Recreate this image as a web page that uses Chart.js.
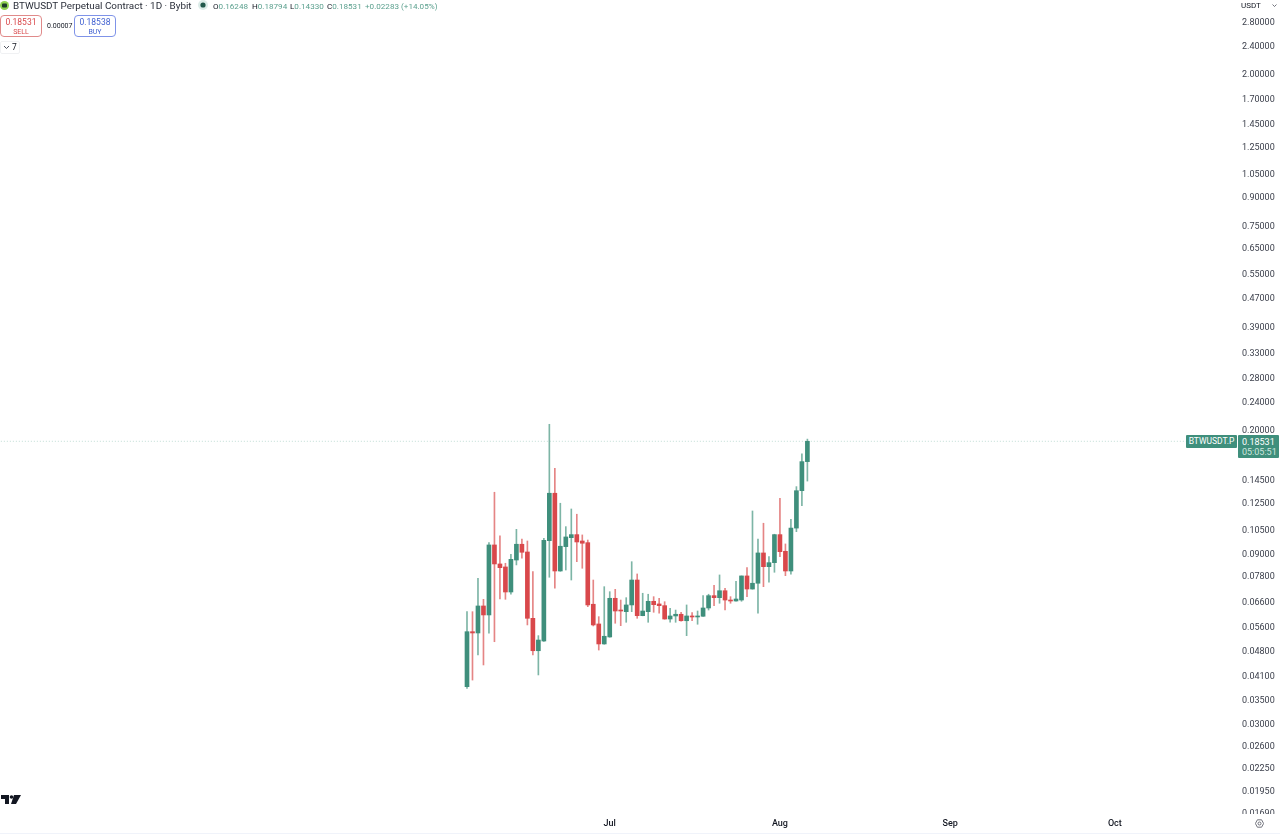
<!DOCTYPE html>
<html>
<head>
<meta charset="utf-8">
<title>BTWUSDT</title>
<script src="https://cdn.jsdelivr.net/npm/chart.js@4"></script>
<style>
  html, body { margin: 0; padding: 0; background: #fff; overflow: hidden; }
  body { width: 1280px; height: 837px; position: relative; font-family: Roboto, sans-serif; color: #131722; }
  canvas { position: absolute; left: 0; top: 0; }
  .t { position: absolute; white-space: nowrap; line-height: 1; }
  .ohlc { position: absolute; top: 1.5px; font-size: 8.1px; line-height: 1; white-space: nowrap; color: #5ba08e; }
  .ohlc span { color: #131722; }
  .btn { position: absolute; top: 15px; width: 40px; height: 20px; border: 1px solid; border-radius: 4px; text-align: center; background: #fff; }
  .btn div { line-height: 1; }
</style>
</head>
<body>
<canvas id="chart" width="1280" height="837"></canvas>

<svg class="t" style="left:0;top:1px" width="10" height="10"><circle cx="4.5" cy="4.5" r="4.5" fill="#8fd14f"/><rect x="2" y="2.5" width="5" height="4" rx="1" fill="#1d3b2a"/></svg>
<div class="t" style="left:13px;top:0.5px;font-size:9.9px;color:#2a2e39">BTWUSDT Perpetual Contract · 1D · Bybit</div>
<svg class="t" style="left:198px;top:0" width="10" height="10"><circle cx="5" cy="5" r="5" fill="#dcece8"/><circle cx="5" cy="5" r="2.6" fill="#22594c"/></svg>
<div class="ohlc" style="left:213px"><span>O</span>0.16248</div>
<div class="ohlc" style="left:252px"><span>H</span>0.18794</div>
<div class="ohlc" style="left:290px"><span>L</span>0.14330</div>
<div class="ohlc" style="left:327px"><span>C</span>0.18531</div>
<div class="ohlc" style="left:365px">+0.02283 (+14.05%)</div>

<div class="btn" style="left:0;border-color:#e08a8a;color:#d9484b">
  <div style="font-size:8.5px;margin-top:2px">0.18531</div>
  <div style="font-size:7px;margin-top:2px">SELL</div>
</div>
<div class="t" style="left:47px;top:22.5px;font-size:7px">0.00007</div>
<div class="btn" style="left:74px;border-color:#7f93e8;color:#3f5fd0">
  <div style="font-size:8.5px;margin-top:2px">0.18538</div>
  <div style="font-size:7px;margin-top:2px">BUY</div>
</div>
<div class="t" style="left:0;top:41px;width:18px;height:11px;border:1px solid #f0f1f3;border-radius:2px"></div>
<svg class="t" style="left:3px;top:45px" width="7" height="5"><path d="M1 1 L3.5 3.5 L6 1" fill="none" stroke="#50535e" stroke-width="1"/></svg>
<div class="t" style="left:12px;top:43px;font-size:8.5px">7</div>

<div class="t" style="left:1241px;top:1.5px;font-size:8px">USDT</div>
<svg class="t" style="left:1272px;top:4px" width="5" height="4"><path d="M0.5 0.5 L2.5 2.5 L4.5 0.5" fill="none" stroke="#50535e" stroke-width="0.8"/></svg>

<div class="t" style="left:1186px;top:435px;width:51px;height:13px;background:#3f8f7c;color:#fff;font-size:8.5px;line-height:13px;text-align:center;border-radius:1px">BTWUSDT.P</div>
<div class="t" style="left:1238px;top:435px;width:41px;height:23px;background:#3f8f7c;border-radius:1px"></div>
<div class="t" style="left:1242px;top:438px;font-size:9px;color:#fff">0.18531</div>
<div class="t" style="left:1242px;top:448px;font-size:9px;color:#cfe6df">05:05:51</div>

<svg class="t" style="left:1px;top:795px" width="20" height="10" viewBox="0 0 20 10"><path d="M0 0 H8 V9 H4 V4 H0 Z M13 0 H20 L15 9 H10 Z" fill="#131722"/><circle cx="10.5" cy="2" r="1.8" fill="#131722"/></svg>
<svg class="t" style="left:1255px;top:819px" width="9" height="9" viewBox="0 0 9 9"><path d="M2.4 0.8 H6.6 L8.6 4.5 L6.6 8.2 H2.4 L0.4 4.5 Z" fill="none" stroke="#50535e" stroke-width="0.8"/><circle cx="4.5" cy="4.5" r="1.5" fill="none" stroke="#50535e" stroke-width="0.8"/></svg>

<div class="t" style="left:0;top:833px;width:1280px;height:1px;background:#f0f3fa"></div>

<script>
// daily candles, 5 Jun to 6 Aug
const days = [0,1,2,3,4,5,6,7,8,9,10,11,12,13,14,15,16,17,18,19,20,21,22,23,24,25,26,27,28,29,30,31,32,33,34,35,36,37,38,39,40,41,42,43,44,45,46,47,48,49,50,51,52,53,54,55,56,57,58,59,60,61,62];
const opens = [0.03796,0.05416,0.05371,0.06395,0.06034,0.09485,0.08389,0.08228,0.06999,0.08605,0.09528,0.09064,0.05905,0.04789,0.05099,0.09749,0.13247,0.08016,0.09382,0.09942,0.10139,0.09731,0.09626,0.06466,0.05693,0.05003,0.05234,0.0672,0.06217,0.06163,0.06437,0.07562,0.06007,0.06163,0.06591,0.06479,0.06408,0.05878,0.05995,0.06061,0.05813,0.05983,0.05956,0.05983,0.06312,0.06835,0.06747,0.07057,0.06645,0.06603,0.06645,0.07764,0.07135,0.07406,0.09007,0.08244,0.08459,0.10139,0.09104,0.08016,0.10577,0.13467,0.16248];
const highs = [0.06163,0.06163,0.07648,0.06676,0.09626,0.13332,0.10054,0.08427,0.08932,0.10492,0.09857,0.09731,0.0798,0.05279,0.09903,0.2068,0.15568,0.12418,0.10676,0.11966,0.11567,0.10119,0.09792,0.07562,0.05968,0.07244,0.07013,0.07121,0.06645,0.06747,0.08513,0.07864,0.06942,0.06898,0.06791,0.0672,0.06574,0.063,0.06229,0.06139,0.06437,0.06124,0.0619,0.06835,0.06898,0.07311,0.07814,0.07169,0.06791,0.075,0.07764,0.0819,0.11813,0.09857,0.10913,0.08794,0.10165,0.12824,0.09547,0.11195,0.13825,0.17079,0.18794];
const lows = [0.03756,0.03962,0.0466,0.04368,0.05361,0.05076,0.06689,0.06676,0.06898,0.08336,0.08703,0.05657,0.0466,0.04095,0.05083,0.07698,0.07169,0.08,0.08066,0.07562,0.08513,0.08158,0.06366,0.0562,0.0481,0.04993,0.05224,0.05719,0.05631,0.05755,0.06163,0.05905,0.06,0.05755,0.06139,0.061,0.0587,0.05755,0.05755,0.05792,0.05279,0.05813,0.05682,0.05975,0.06229,0.06408,0.06508,0.06229,0.06508,0.06595,0.06591,0.06791,0.07126,0.061,0.07244,0.07453,0.0795,0.08794,0.07778,0.07849,0.10335,0.12227,0.1433];
const closes = [0.05416,0.05371,0.06395,0.06034,0.09485,0.08389,0.0819,0.06999,0.08645,0.09528,0.09047,0.05905,0.04789,0.05131,0.09774,0.13247,0.08016,0.09406,0.09988,0.10139,0.09669,0.0959,0.06437,0.05657,0.05003,0.05258,0.0672,0.0619,0.0619,0.06437,0.07562,0.06007,0.0619,0.06591,0.06449,0.06408,0.05878,0.05995,0.06061,0.05813,0.05995,0.05956,0.05995,0.06312,0.06835,0.06747,0.07057,0.06645,0.06603,0.06689,0.07764,0.07135,0.07406,0.09007,0.08244,0.08459,0.10139,0.09081,0.08016,0.10577,0.13467,0.16248,0.18531];

const priceTicks = [2.8,2.4,2,1.7,1.45,1.25,1.05,0.9,0.75,0.65,0.55,0.47,0.39,0.33,0.28,0.24,0.2,0.145,0.125,0.105,0.09,0.078,0.066,0.056,0.048,0.041,0.035,0.03,0.026,0.0225,0.0195,0.0169];
const monthDays = [26,57,88,118];
const monthNames = ['Jul','Aug','Sep','Oct'];
const lastPrice = 0.18531;

const up = '#3f8f7c';
const down = '#d9484b';
const upWick = '#7db5a6';
const downWick = '#e58585';

new Chart(document.getElementById('chart'), {
  data: {
    datasets: [
      {
        type: 'line',
        data: [{ x: -86, y: lastPrice }, { x: 140, y: lastPrice }],
        borderColor: '#bfdcd4',
        borderWidth: 1,
        borderDash: [1, 2],
        pointRadius: 0,
        order: 3
      },
      {
        type: 'bar',
        data: days.map((d, i) => ({ x: d, y: [lows[i], highs[i]] })),
        backgroundColor: days.map((d, i) => closes[i] >= opens[i] ? upWick : downWick),
        barThickness: 1,
        grouped: false,
        order: 2
      },
      {
        type: 'bar',
        data: days.map((d, i) => ({ x: d, y: [opens[i], closes[i]] })),
        backgroundColor: days.map((d, i) => closes[i] >= opens[i] ? up : down),
        barThickness: 4,
        minBarLength: 1,
        grouped: false,
        order: 1
      }
    ]
  },
  options: {
    responsive: false,
    animation: false,
    devicePixelRatio: 1,
    layout: { padding: 0 },
    plugins: { legend: { display: false }, tooltip: { enabled: false } },
    scales: {
      x: {
        type: 'linear',
        offset: false,
        min: -85.06,
        max: 139.34,
        grid: { display: false, drawTicks: false },
        border: { display: false },
        afterFit: s => { s.height = 22; },
        afterBuildTicks: s => { s.ticks = monthDays.map(v => ({ value: v })); },
        ticks: {
          autoSkip: false,
          maxRotation: 0,
          padding: 3,
          color: '#131722',
          font: { family: 'Roboto', size: 9, weight: '500' },
          callback: v => monthNames[monthDays.indexOf(v)]
        }
      },
      y: {
        type: 'logarithmic',
        position: 'right',
        bounds: 'data',
        min: 0.01657,
        max: 3.2066,
        grid: { display: false, drawTicks: false },
        border: { display: false },
        afterFit: s => { s.width = 48; s.paddingTop = 0; s.paddingBottom = 0; },
        afterBuildTicks: s => { s.ticks = priceTicks.map(v => ({ value: v })); },
        ticks: {
          autoSkip: false,
          padding: 10,
          labelOffset: 1.5,
          color: '#3a3e4a',
          font: { family: 'Roboto', size: 9 },
          callback: v => v.toFixed(5)
        }
      }
    }
  },
  plugins: [{
    // time axis strip hides the lower half of the last price label
    id: 'axisStrip',
    afterDraw(chart) {
      chart.ctx.save();
      chart.ctx.fillStyle = '#fff';
      chart.ctx.fillRect(chart.chartArea.right, chart.chartArea.bottom - 1, 48, 8);
      chart.ctx.restore();
    }
  }]
});
</script>
</body>
</html>
